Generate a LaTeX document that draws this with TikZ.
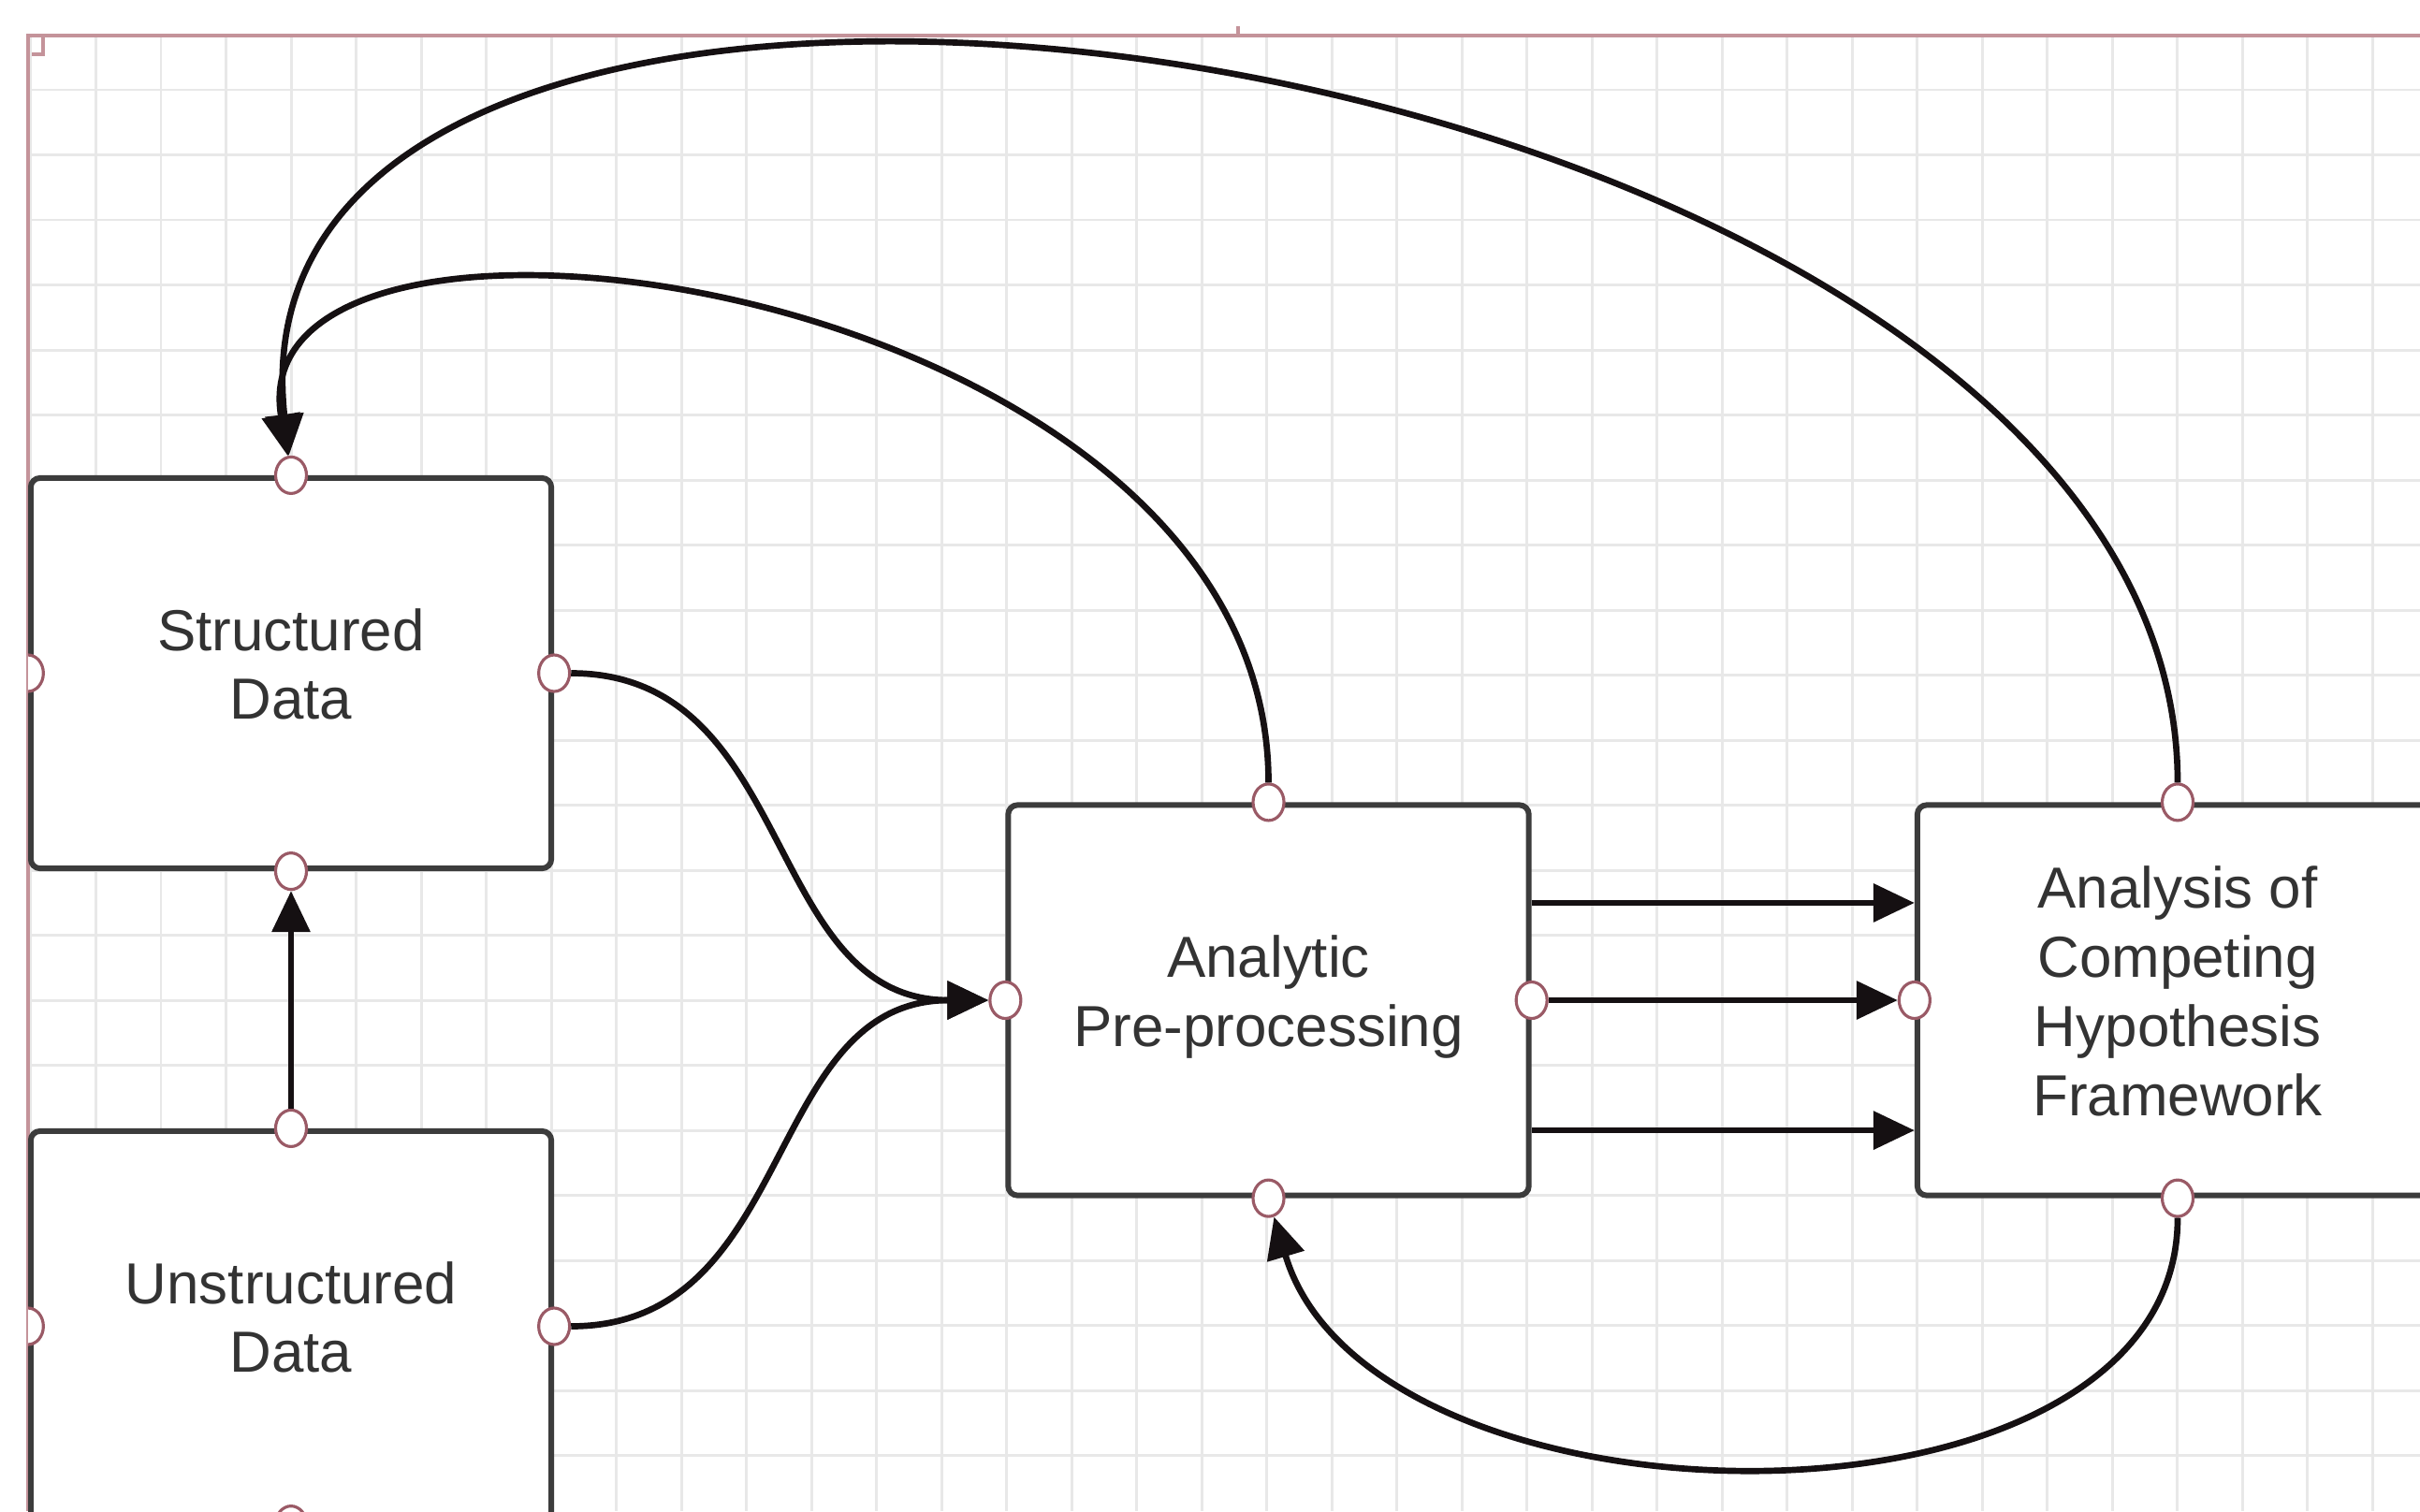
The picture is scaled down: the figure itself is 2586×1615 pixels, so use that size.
\documentclass[tikz,border=0pt]{standalone}
\usepackage{fontspec}
\setmainfont{Liberation Sans}
\usetikzlibrary{arrows.meta,shapes.geometric}
\definecolor{gridc}{HTML}{E8E8E8}
\definecolor{edgec}{HTML}{C4939A}
\definecolor{boxc}{HTML}{3C3C3C}
\definecolor{txtc}{HTML}{333333}
\definecolor{portc}{HTML}{9A5A66}
\definecolor{linec}{HTML}{151012}
\begin{document}
\begin{tikzpicture}[x={(0.01cm,0)}, y={(0,-0.01cm)},
  gridline/.style={draw=gridc, line width=0.85pt},
  edgeline/.style={draw=edgec, line width=1.1pt},
  box/.style={draw=boxc, line width=1.7pt, fill=white, rounded corners=0.1cm,
    minimum width=5.56cm, minimum height=4.17cm, inner sep=0pt, align=center,
    text=txtc, font=\fontsize{17.6}{21}\selectfont, text depth=0.2cm},
  port/.style={ellipse, draw=portc, line width=0.9pt, fill=white,
    minimum width=0.33cm, minimum height=0.39cm, inner sep=0pt},
  conn/.style={draw=linec, line width=1.9pt, -{Triangle[length=0.44cm,width=0.4cm]}}]
\useasboundingbox (0,0) rectangle (2586,1615);
\fill[white] (0,0) rectangle (2586,1615);
% canvas edge
\draw[edgeline] (30,1615) -- (30,38) -- (2586,38);
\draw[edgeline] (30,58) -- (46,58) -- (46,38);
\draw[edgeline] (1323,28) -- (1323,38);
\begin{scope}
\clip (30,38) rectangle (2586,1615);
\foreach \i in {0,...,37} \draw[gridline] ({33+69.5*\i},38) -- ({33+69.5*\i},1615);
\foreach \j in {-6,...,15} \draw[gridline] (30,{513+69.5*\j}) -- (2586,{513+69.5*\j});
\draw[edgeline] (30,1615) -- (30,38) -- (2586,38);
% boxes
\node[box] (sd) at (311,719.5) {Structured\\Data};
\node[box] (ud) at (311,1417.5) {Unstructured\\Data};
\node[box] (ap) at (1355.5,1069) {Analytic\\Pre-processing};
\node[box] (ach) at (2327,1069) {Analysis of\\Competing\\Hypothesis\\Framework};
% ports
\foreach \n in {sd,ud,ap,ach}{
  \node[port] (\n-n) at (\n.north) {};
  \node[port] (\n-s) at (\n.south) {};
  \node[port] (\n-e) at (\n.east) {};
  \node[port] (\n-w) at (\n.west) {};
}
% connectors
\draw[conn] (ud-n) -- (sd-s);
\draw[conn] (sd-e) .. controls +(260,0) and +(-260,0) .. (ap-w);
\draw[conn] (ud-e) .. controls +(260,0) and +(-260,0) .. (ap-w);
\draw[conn] ([yshift=1.04cm]ap.east) -- ([yshift=1.04cm]ach.west);
\draw[conn] (ap-e) -- (ach-w);
\draw[conn] ([yshift=-1.39cm]ap.east) -- ([yshift=-1.39cm]ach.west);
\draw[conn] (ap-n) .. controls +(0,-561) and +(-61,-361) .. (sd-n);
\draw[conn] (ach-n) .. controls +(0,-822) and +(-86,-775) .. (sd-n);
\draw[conn] (ach-s) .. controls +(0,380) and +(110,370) .. (ap-s);
\end{scope}
\end{tikzpicture}
\end{document}
